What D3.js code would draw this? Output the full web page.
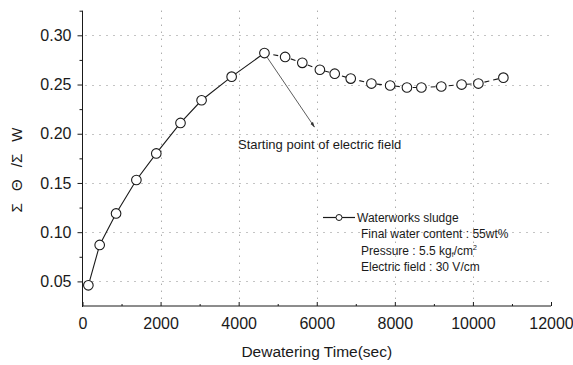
<!DOCTYPE html>
<html>
<head>
<meta charset="utf-8">
<script src="https://cdn.jsdelivr.net/npm/d3@7"></script>
<style>
  html, body { margin: 0; padding: 0; background: #fff; }
  svg { display: block; font-family: "Liberation Sans", Arial, sans-serif; }
</style>
</head>
<body>
<svg id="chart" width="573" height="365"></svg>
<script>
// Dewatering time (sec) and cumulative ratio ΣΘ/ΣW
const timeSec = [150, 440, 860, 1380, 1890, 2510, 3050, 3820, 4660, 5190, 5630, 6080,
                 6460, 6870, 7400, 7880, 8310, 8680, 9190, 9710, 10140, 10780];
const ratio   = [0.046, 0.087, 0.119, 0.153, 0.180, 0.211, 0.234, 0.258, 0.282, 0.278, 0.272, 0.265,
                 0.261, 0.256, 0.251, 0.249, 0.247, 0.247, 0.248, 0.250, 0.251, 0.257];
const peakIndex = 8;  // electric field switched on here
const xTicks = [0, 2000, 4000, 6000, 8000, 10000, 12000];
const yTicks = [0.05, 0.10, 0.15, 0.20, 0.25, 0.30];
const legendLines = ["Final water content : 55wt%", "Pressure : 5.5 kg", "Electric field : 30 V/cm"];

const svg = d3.select("#chart");
const ink = "#1a1a1a";

const x = d3.scaleLinear().domain([0, 12000]).range([82.5, 551]);
const y = d3.scaleLinear().domain([0.025, 0.325]).range([306, 10.7]);

// dotted grid
const grid = svg.append("g").attr("stroke", "#888").attr("stroke-width", 1)
  .attr("stroke-dasharray", "1,6").attr("fill", "none");
grid.selectAll("line.h").data(yTicks).join("line").attr("class", "h")
  .attr("x1", x(0) + 3).attr("x2", x(12000))
  .attr("y1", d => Math.round(y(d)) + 0.5).attr("y2", d => Math.round(y(d)) + 0.5);
grid.selectAll("line.v").data(xTicks.slice(1, -1)).join("line").attr("class", "v")
  .attr("x1", d => Math.round(x(d)) + 0.5).attr("x2", d => Math.round(x(d)) + 0.5)
  .attr("y1", y(0.325)).attr("y2", y(0.025) - 3);

// axes
const yAxis = svg.append("g").attr("transform", `translate(${x(0)},0)`)
  .call(d3.axisLeft(y).tickValues(yTicks).tickFormat(d3.format(".2f")).tickSize(5).tickPadding(6));
const yMinor = svg.append("g").attr("transform", `translate(${x(0)},0)`)
  .call(d3.axisLeft(y).tickValues(d3.range(0.075, 0.326, 0.05)).tickFormat("").tickSize(3));
yMinor.select(".domain").remove();

const xAxis = svg.append("g").attr("transform", `translate(0,${y(0.025)})`)
  .call(d3.axisBottom(x).tickValues(xTicks).tickFormat(d3.format("d")).tickSize(-4).tickPadding(12));
const xMinor = svg.append("g").attr("transform", `translate(0,${y(0.025)})`)
  .call(d3.axisBottom(x).tickValues(d3.range(1000, 12000, 2000)).tickFormat("").tickSize(-2));
xMinor.select(".domain").remove();

[yAxis, yMinor, xAxis, xMinor].forEach(g => {
  g.selectAll("path, line").attr("stroke", ink);
  g.selectAll("text").attr("fill", ink).attr("font-size", 16)
    .attr("font-family", "'Liberation Sans', Arial, sans-serif");
});
yAxis.select(".domain").attr("d", `M0,${y(0.325)}V${y(0.025) + 1}`);
xAxis.select(".domain").attr("d", `M${x(0)},0H${x(12000)}`);

// axis titles
svg.append("text")
  .attr("x", x(6000)).attr("y", 357)
  .attr("text-anchor", "middle").attr("font-size", 15.5).attr("fill", ink)
  .text("Dewatering Time(sec)");

svg.append("text")
  .attr("transform", "translate(22,170) rotate(-90)")
  .attr("text-anchor", "middle").attr("font-size", 15).attr("fill", ink)
  .style("word-spacing", "8px")
  .text("Σ Θ /Σ W");

// data line: solid before the field is applied, dashed after
const pts = timeSec.map((t, i) => [t, ratio[i]]);
const line = d3.line().x(d => x(d[0])).y(d => y(d[1]));
svg.append("path").datum(pts.slice(0, peakIndex + 1))
  .attr("d", line).attr("fill", "none").attr("stroke", ink).attr("stroke-width", 1.1);
svg.append("path").datum(pts.slice(peakIndex))
  .attr("d", line).attr("fill", "none").attr("stroke", ink).attr("stroke-width", 1.1)
  .attr("stroke-dasharray", "5,4");

svg.append("g").selectAll("circle").data(pts).join("circle")
  .attr("cx", d => x(d[0])).attr("cy", d => y(d[1])).attr("r", 4.8)
  .attr("fill", "#fff").attr("stroke", ink).attr("stroke-width", 1.1);

// annotation arrow
svg.append("defs").append("marker")
  .attr("id", "arrow").attr("viewBox", "0 0 10 10").attr("refX", 9).attr("refY", 5)
  .attr("markerWidth", 7).attr("markerHeight", 7).attr("orient", "auto")
  .append("path").attr("d", "M0,2 L10,5 L0,8 Z").attr("fill", "#333");

const peak = pts[peakIndex];
const tip = [x(peak[0]) + 50, y(peak[1]) + 74];
svg.append("line")
  .attr("x1", x(peak[0]) + 2.5).attr("y1", y(peak[1]) + 4)
  .attr("x2", tip[0]).attr("y2", tip[1])
  .attr("stroke", "#333").attr("stroke-width", 0.8).attr("marker-end", "url(#arrow)");

svg.append("text")
  .attr("x", 238).attr("y", 148.5).attr("font-size", 13).attr("fill", ink)
  .text("Starting point of electric field");

// legend
const lg = svg.append("g").attr("transform", "translate(323,217.5)");
lg.append("line").attr("x1", 0).attr("x2", 32).attr("y1", 0).attr("y2", 0)
  .attr("stroke", ink).attr("stroke-width", 1.2);
lg.append("circle").attr("cx", 16).attr("cy", 0).attr("r", 3)
  .attr("fill", "#fff").attr("stroke", ink).attr("stroke-width", 1);
lg.append("text").attr("x", 34).attr("y", 0).attr("dy", "0.35em")
  .attr("font-size", 12).attr("fill", ink).text("Waterworks sludge");

const info = lg.selectAll("text.info").data(legendLines).join("text").attr("class", "info")
  .attr("x", 38).attr("y", (d, i) => 16.5 * (i + 1)).attr("dy", "0.35em")
  .attr("font-size", 12).attr("fill", ink).text(d => d);

// subscript f and superscript 2 for the pressure unit
const pressure = info.filter((d, i) => i === 1);
pressure.append("tspan").attr("font-size", 7).attr("dy", "2.5").text("f");
pressure.append("tspan").attr("dy", "-2.5").text("/cm");
pressure.append("tspan").attr("font-size", 7).attr("dy", "-5").text("2");
</script>
</body>
</html>
